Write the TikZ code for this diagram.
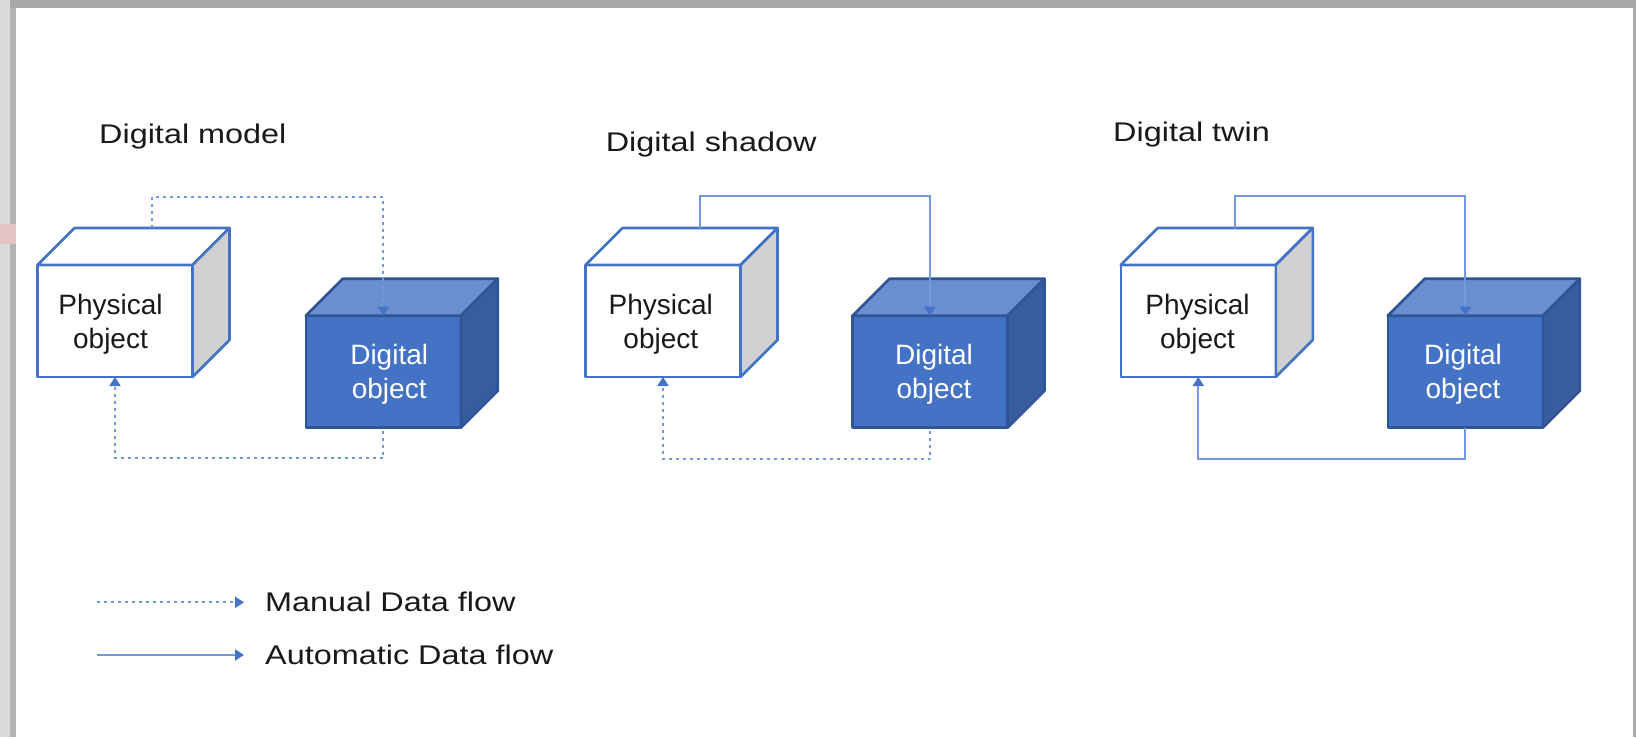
\documentclass[tikz,border=0pt]{standalone}
\usepackage{fontspec}
\setmainfont{Liberation Sans}
\newfontfamily\titlefont[FakeStretch=1.2]{Liberation Sans}
\usetikzlibrary{arrows.meta}
\definecolor{physblue}{HTML}{4472C4}
\definecolor{physgray}{HTML}{D0D0D0}
\definecolor{digfront}{HTML}{4472C4}
\definecolor{digtop}{HTML}{6A8FD1}
\definecolor{digright}{HTML}{385C9E}
\definecolor{digedge}{HTML}{2F5597}
\definecolor{flowline}{HTML}{7398DE}
\definecolor{flowtip}{HTML}{4472C4}
\definecolor{framegray}{HTML}{A9A9A9}
\definecolor{framelight}{HTML}{DADADA}
\definecolor{framemid}{HTML}{B4B4B4}
\definecolor{framepink}{HTML}{E6C4C4}
\newcommand\drawphys[3]{%
  \node[physfront] (#1) at (#2,#3) {};
  \filldraw[physedge, fill=white] (#1.north west) -- ++(37,-37) -- ++(155,0) -- (#1.north east) -- cycle;
  \filldraw[physedge, fill=physgray] (#1.north east) -- ++(37,-37) -- ++(0,112) -- (#1.south east) -- cycle;
}
\newcommand\drawdig[3]{%
  \node[digfrontbox] (#1) at (#2,#3) {};
  \filldraw[digedgestyle, fill=digtop] (#1.north west) -- ++(37,-37) -- ++(155,0) -- (#1.north east) -- cycle;
  \filldraw[digedgestyle, fill=digright] (#1.north east) -- ++(37,-37) -- ++(0,112) -- (#1.south east) -- cycle;
}
\begin{document}
\begin{tikzpicture}[x=1pt,y=-1pt,
  physfront/.style={rectangle, minimum width=155pt, minimum height=112pt, inner sep=0pt, outer sep=0pt,
    draw=physblue, line width=2.6pt, fill=white, line join=round},
  physedge/.style={draw=physblue, line width=2.6pt, line join=round},
  digfrontbox/.style={rectangle, minimum width=155pt, minimum height=112pt, inner sep=0pt, outer sep=0pt,
    draw=digedge, line width=2.6pt, fill=digfront, line join=round},
  digedgestyle/.style={draw=digedge, line width=2.6pt, line join=round},
  cubetext/.style={align=center, inner sep=0pt, font=\fontsize{28}{34}\selectfont},
  phystext/.style={cubetext, text=black!90},
  digtext/.style={cubetext, text=white},
  titletext/.style={anchor=base west, inner sep=0pt, text=black!90, font=\titlefont\fontsize{27}{32}\selectfont},
  legendtext/.style={titletext},
  flowbase/.style={draw=flowline, line width=2.2pt, -{Triangle[length=9pt,width=11pt,color=flowtip]}},
  manual/.style={flowbase, dash pattern=on 3pt off 4pt},
  automatic/.style={flowbase},
]
\useasboundingbox (0,0) rectangle (1636,737);
% screenshot frame
\fill[white] (0,0) rectangle (1636,737);
\fill[framegray] (0,0) rectangle (1636,8);
\fill[framelight] (0,0) rectangle (10,737);
\fill[framemid] (10,8) rectangle (16,737);
\fill[framepink] (0,224) rectangle (16,244);
\fill[framegray] (1633,0) rectangle (1636,737);

% titles
\node[titletext] (title1) at (99,143.3) {Digital model};
\node[titletext] (title2) at (605.6,151.7) {Digital shadow};
\node[titletext] (title3) at (1113,141.7) {Digital twin};

% cubes
\drawphys{p1}{115}{321}
\drawdig{d1}{383.3}{371.7}
\drawphys{p2}{663}{321}
\drawdig{d2}{930}{371.7}
\drawphys{p3}{1198.3}{321}
\drawdig{d3}{1465.3}{371.7}

% cube labels
\node[phystext] (pt1) at (110.5,323.8) {Physical\\object};
\node[digtext] (dt1) at (389.2,374.4) {Digital\\object};
\node[phystext] (pt2) at (660.8,323.8) {Physical\\object};
\node[digtext] (dt2) at (934,374.4) {Digital\\object};
\node[phystext] (pt3) at (1197.5,323.8) {Physical\\object};
\node[digtext] (dt3) at (1463,374.4) {Digital\\object};

% connector start points on the back top edges
\path (p1.north) ++(37,-37) coordinate (t1);
\path (p2.north) ++(37,-37) coordinate (t2);
\path (p3.north) ++(37,-37) coordinate (t3);

% digital model: manual both ways
\draw[manual] (t1) -- ++(0,-31) -| (d1.north);
\draw[manual, shorten <=3pt] (d1.south) -- ++(0,30.5) -| (p1.south);
% digital shadow: automatic to digital, manual back
\draw[automatic] (t2) -- ++(0,-32) -| (d2.north);
\draw[manual, shorten <=3pt] (d2.south) -- ++(0,31.5) -| (p2.south);
% digital twin: automatic both ways
\draw[automatic] (t3) -- ++(0,-32) -| (d3.north);
\draw[automatic] (d3.south) -- ++(0,31.5) -| (p3.south);

% legend
\coordinate (lm0) at (97,602.3);
\coordinate (lm1) at (244,602.3);
\coordinate (la0) at (97,655);
\coordinate (la1) at (244,655);
\draw[manual] (lm0) -- (lm1);
\draw[automatic] (la0) -- (la1);
\node[legendtext] (lt1) at (265,611) {Manual Data flow};
\node[legendtext] (lt2) at (265,664) {Automatic Data flow};
\end{tikzpicture}
\end{document}
